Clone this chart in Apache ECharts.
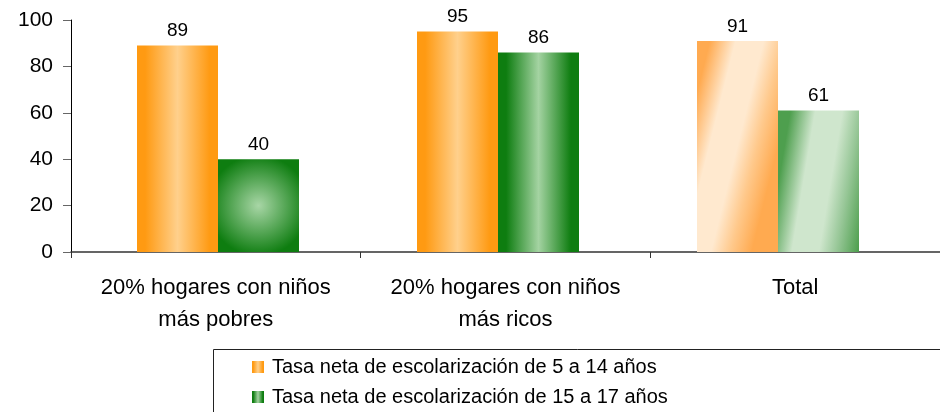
<!DOCTYPE html>
<html>
<head>
<meta charset="utf-8">
<script src="https://cdn.jsdelivr.net/npm/echarts@6/dist/echarts.min.js"></script>
<style>
  html, body { margin: 0; padding: 0; background: #fff; }
  #chart { width: 940px; height: 412px; }
</style>
</head>
<body>
<div id="chart"></div>
<script>
var categories = ['20% hogares con niños\nmás pobres', '20% hogares con niños\nmás ricos', 'Total'];
var seriesNames = ['Tasa neta de escolarización de 5 a 14 años', 'Tasa neta de escolarización de 15 a 17 años'];
var tasa5a14 = [89, 95, 91];
var tasa15a17 = [40, 86, 61];
var yTicks = [0, 20, 40, 60, 80, 100];

var font = 'Liberation Sans, Arial, sans-serif';

function pillow(edge, mid) {
  return {
    type: 'linear', x: 0, y: 0, x2: 1, y2: 0,
    colorStops: [
      { offset: 0, color: edge },
      { offset: 0.1, color: edge },
      { offset: 0.5, color: mid },
      { offset: 0.9, color: edge },
      { offset: 1, color: edge }
    ]
  };
}
// diagonal sheen used for the "Total" bars
function diag(edge, mid, light) {
  return {
    type: 'linear', x: 0, y: 0, x2: 1.25, y2: 0.12,
    colorStops: [
      { offset: 0, color: edge },
      { offset: 0.12, color: edge },
      { offset: 0.36, color: light },
      { offset: 0.62, color: light },
      { offset: 0.8, color: mid },
      { offset: 1, color: edge }
    ]
  };
}

var orangePillow = pillow('#ff9a12', '#ffd08c');
var greenPillow = pillow('#0e7d10', '#a4d3a2');
var greenRadial = {
  type: 'radial', x: 0.5, y: 0.5, r: 0.62,
  colorStops: [
    { offset: 0, color: '#a8d6a6' },
    { offset: 1, color: '#0e7d10' }
  ]
};

function buildData(values, baseStyle, totalStyle, firstStyle) {
  return values.map(function (v, i) {
    var st = baseStyle;
    if (i === 2) st = totalStyle;
    if (i === 0 && firstStyle) st = firstStyle;
    return { value: v, itemStyle: { color: st } };
  });
}

var chart = echarts.init(document.getElementById('chart'));
chart.setOption({
  animation: false,
  textStyle: { fontFamily: font, color: '#000' },
  grid: [
    { left: 71, right: -11, top: 20, bottom: 160 },
    { left: 78, right: 22, top: 20, bottom: 160 }
  ],
  graphic: [{
    type: 'rect',
    left: 211, top: 347,
    shape: { width: 760, height: 90 },
    style: { fill: 'none', stroke: '#222', lineWidth: 1 }
  }],
  legend: {
    orient: 'vertical',
    left: 252,
    top: 357,
    padding: 0,
    itemGap: 10,
    itemWidth: 12,
    itemHeight: 12,
    icon: 'rect',
    textStyle: { fontSize: 20, lineHeight: 20, color: '#000', fontFamily: font, padding: [0, 0, 0, 3] },
    data: seriesNames
  },
  xAxis: [
    {
      type: 'category',
      gridIndex: 0,
      data: categories,
      axisLine: { lineStyle: { color: '#333', width: 1.5 } },
      axisTick: { show: true, length: 6, lineStyle: { color: '#333' } },
      axisLabel: { fontSize: 22, lineHeight: 32, margin: 20, color: '#000', interval: 0 }
    },
    {
      type: 'category',
      gridIndex: 1,
      data: categories,
      show: false
    }
  ],
  yAxis: [
    {
      type: 'value',
      gridIndex: 0,
      min: 0, max: 100, interval: 20,
      splitLine: { show: false },
      axisLine: { show: true, lineStyle: { color: '#000' } },
      axisTick: { show: true, length: 8, lineStyle: { color: '#666' } },
      axisLabel: { fontSize: 21, color: '#000', margin: 18,
        formatter: function (v) { return yTicks.indexOf(v) >= 0 ? v : ''; } }
    },
    {
      type: 'value',
      gridIndex: 1,
      min: 0, max: 100, interval: 20,
      show: false
    }
  ],
  series: [
    {
      name: seriesNames[0],
      type: 'bar',
      xAxisIndex: 1,
      yAxisIndex: 1,
      barWidth: 81,
      barGap: '0%',
      itemStyle: { color: orangePillow },
      label: { show: true, position: 'top', distance: 5, fontSize: 19, color: '#000' },
      data: buildData(tasa5a14, orangePillow, diag('#ffaa50', '#ffc98c', '#ffe9cf'))
    },
    {
      name: seriesNames[1],
      type: 'bar',
      xAxisIndex: 1,
      yAxisIndex: 1,
      barWidth: 81,
      barGap: '0%',
      itemStyle: { color: greenPillow },
      label: { show: true, position: 'top', distance: 5, fontSize: 19, color: '#000' },
      data: buildData(tasa15a17, greenPillow, diag('#4e9f4e', '#94c594', '#cfe6cd'), greenRadial)
    }
  ]
});
</script>
</body>
</html>
